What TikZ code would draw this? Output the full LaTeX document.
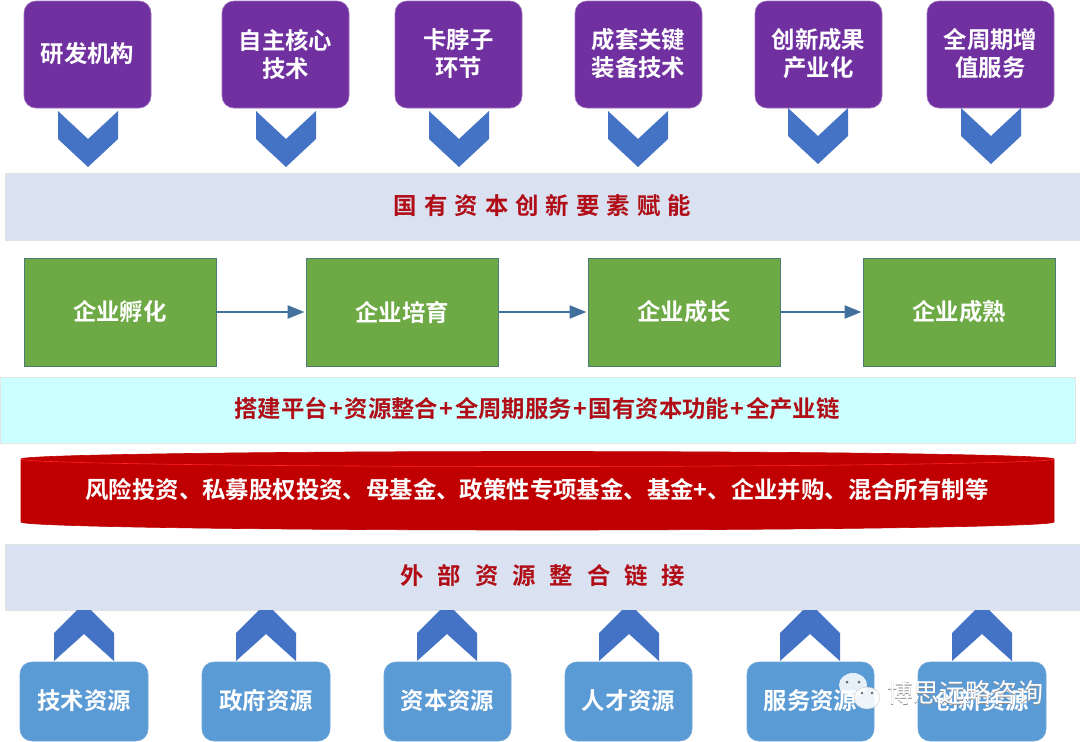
\documentclass[tikz,border=0pt]{standalone}
\usepackage{fontspec}
\setmainfont{Noto Sans CJK SC}[BoldFont={Noto Sans CJK SC Bold}]
\newfontfamily\wideA{Noto Sans CJK SC Bold}[LetterSpace=30]
\newfontfamily\wideB{Noto Sans CJK SC Bold}[LetterSpace=59.5]
\usetikzlibrary{arrows.meta}
\definecolor{purp}{HTML}{7030A0}
\definecolor{chev}{HTML}{4472C4}
\definecolor{bandc}{HTML}{DAE1F1}
\definecolor{greenc}{HTML}{6DA944}
\definecolor{greenl}{HTML}{4F7A7A}
\definecolor{flow}{HTML}{41719C}
\definecolor{cyanb}{HTML}{CCFFFF}
\definecolor{redc}{HTML}{C00000}
\definecolor{redt}{HTML}{B00D16}
\definecolor{bluec}{HTML}{5B9BD5}
\newcommand{\plusgap}{\hspace{1.5pt}+\hspace{1.5pt}}
\tikzset{
  x=1pt,y=-1pt,
  txt/.style={font=\fontsize{23.4}{28}\selectfont\bfseries,text=white,align=center,inner sep=0pt},
  purpbox/.style={draw=purp!70!white,line width=.6pt,fill=purp,rounded corners=12pt},
  bluebox/.style={draw=bluec!90!white,line width=.6pt,fill=bluec,rounded corners=12pt},
  greenbox/.style={draw=greenl,line width=1pt,fill=greenc},
  bandbox/.style={fill=bandc,draw=black!12,line width=.4pt},
  chevfill/.style={fill=chev,draw=none},
  flowarrow/.style={draw=flow,line width=2.4pt,-{Triangle[length=17pt,width=13pt]},shorten >=1pt},
  redtxt/.style={font=\fontsize{23.4}{28}\selectfont\bfseries,text=redt,inner sep=0pt},
  gnode/.style={minimum width=192pt,minimum height=108pt,inner sep=0pt,greenbox,font=\fontsize{23.4}{28}\selectfont\bfseries,text=white},
}
\newcommand{\pbox}[4]{% name, left, right, text
  \path[purpbox] (#2,1) rectangle (#3,108);
  \node[txt] (#1) at ({(#2+#3)/2},54) {#4};}
\newcommand{\bbox}[4]{%
  \path[bluebox] (#2,662) rectangle (#3,741);
  \node[txt] (#1) at ({(#2+#3)/2},701) {#4};}
\newcommand{\dchev}[2]{% centre, top
  \path[chevfill] (#1-30,#2) -- (#1,#2+28) -- (#1+30,#2) -- (#1+30,#2+28) -- (#1,#2+56) -- (#1-30,#2+28) -- cycle;}
\newcommand{\uchev}[1]{% centre
  \path[chevfill] (#1-30,661) -- (#1,634) -- (#1+30,661) -- (#1+30,633) -- (#1+7,610) -- (#1-7,610) -- (#1-30,633) -- cycle;}
\begin{document}
\begin{tikzpicture}
\useasboundingbox[fill=white] (0,0) rectangle (1080,742);
% top chevrons and boxes
\dchev{88}{111}\dchev{286}{111}\dchev{459}{111}\dchev{638}{111}\dchev{818}{108}\dchev{991}{108}
\pbox{t1}{24}{151}{研发机构}
\pbox{t2}{222}{349}{自主核心\\技术}
\pbox{t3}{395}{522}{卡脖子\\环节}
\pbox{t4}{575}{702}{成套关键\\装备技术}
\pbox{t5}{755}{882}{创新成果\\产业化}
\pbox{t6}{927}{1054}{全周期增\\值服务}
% band 1
\path[bandbox] (5,173) rectangle (1080,240);
\node[redtxt,font=\fontsize{23.4}{28}\selectfont\wideA] (b1) at (542.5,206) {国有资本创新要素赋能};
% stage row
\node[gnode] (g1) at (120,312) {企业孵化};
\node[gnode] (g2) at (402,312) {企业培育};
\node[gnode] (g3) at (684,312) {企业成长};
\node[gnode] (g4) at (959,312) {企业成熟};
\draw[flowarrow] (g1.east) -- (g2.west);
\draw[flowarrow] (g2.east) -- (g3.west);
\draw[flowarrow] (g3.east) -- (g4.west);
% cyan band
\path[fill=cyanb,draw=black!10,line width=.4pt] (0,377) rectangle (1075,443);
\node[redtxt] (c1) at (537,409) {搭建平台\plusgap 资源整合\plusgap 全周期服务\plusgap 国有资本功能\plusgap 全产业链};
% red cylinder
\path[fill=redc,draw=red!75!black,line width=.6pt] (21,459) .. controls (21,454.9) and (252.7,451.5) .. (537.5,451.5) .. controls (822.3,451.5) and (1054,454.9) .. (1054,459)
  -- (1054,522) .. controls (1054,526.4) and (822.3,530) .. (537.5,530) .. controls (252.7,530) and (21,526.4) .. (21,522) -- cycle;
\path[draw=red!85!white,line width=.6pt] (21,459) .. controls (21,463.1) and (252.7,466.5) .. (537.5,466.5) .. controls (822.3,466.5) and (1054,463.1) .. (1054,459);
\node[txt] (r1) at (537,490) {风险投资、私募股权投资、母基金、政策性专项基金、基金+、企业并购、混合所有制等};
% band 2
\path[bandbox] (5,544) rectangle (1080,610);
\node[redtxt,font=\fontsize{23.4}{28}\selectfont\wideB] (b2) at (543,576) {外部资源整合链接};
% bottom
\uchev{84}\uchev{266}\uchev{447}\uchev{629}\uchev{810}\uchev{982}
\bbox{s1}{20}{148}{技术资源}
\bbox{s2}{202}{330}{政府资源}
\bbox{s3}{384}{511}{资本资源}
\bbox{s4}{565}{692}{人才资源}
\bbox{s5}{747}{874}{服务资源}
\bbox{s6}{918}{1046}{创新资源}
% watermark
\path[fill=white,fill opacity=.85] (853,685) ellipse (14pt and 12pt);
\path[fill=white,fill opacity=.9,draw=black!25,line width=.3pt] (867,698) ellipse (13pt and 11pt);
\path[fill=black!60] (847,682) circle (1.5pt) (859,682) circle (1.5pt) (862,693) circle (1.3pt) (872,693) circle (1.3pt);
\node[inner sep=0pt,text=black!45,font=\fontsize{26}{28}\selectfont] (w0) at (965.6,693.6) {博思远略咨询};
\node[inner sep=0pt,text=white,font=\fontsize{26}{28}\selectfont] (w1) at (965,693) {博思远略咨询};
\end{tikzpicture}
\end{document}
